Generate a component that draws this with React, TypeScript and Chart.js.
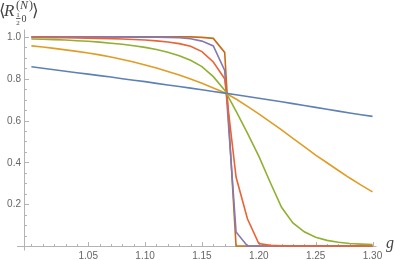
import { useEffect, useRef } from "react";
import { Chart, registerables } from "chart.js";

Chart.register(...registerables);

// coupling g (x values)
const gValues = [
  1.0, 1.01, 1.02, 1.03, 1.04, 1.05, 1.06, 1.07, 1.08, 1.09, 1.1, 1.11, 1.12, 1.13, 1.14, 1.15,
  1.16, 1.17, 1.18, 1.19, 1.2, 1.21, 1.22, 1.23, 1.24, 1.25, 1.26, 1.27, 1.28, 1.29, 1.3,
];

const seriesBlue = [
  0.857, 0.85, 0.843, 0.836, 0.829, 0.822, 0.815, 0.808, 0.8, 0.793, 0.786, 0.778, 0.77, 0.763, 0.755,
  0.747, 0.739, 0.731, 0.723, 0.715, 0.707, 0.698, 0.69, 0.681, 0.672, 0.663, 0.654, 0.645, 0.636,
  0.628, 0.62,
];
const seriesOrange = [
  0.957, 0.952, 0.945, 0.938, 0.931, 0.923, 0.914, 0.904, 0.892, 0.88, 0.866, 0.851, 0.835, 0.818,
  0.799, 0.778, 0.756, 0.733, 0.703, 0.668, 0.632, 0.594, 0.555, 0.515, 0.475, 0.435, 0.398, 0.361,
  0.325, 0.291, 0.259,
];
const seriesGreen = [
  0.99, 0.989, 0.987, 0.985, 0.982, 0.979, 0.975, 0.97, 0.965, 0.958, 0.95, 0.94, 0.927, 0.91, 0.888,
  0.858, 0.81, 0.745, 0.645, 0.54, 0.43, 0.305, 0.185, 0.11, 0.068, 0.042, 0.027, 0.018, 0.012, 0.009,
  0.007,
];
const seriesRed = [
  0.997, 0.997, 0.996, 0.996, 0.995, 0.994, 0.993, 0.992, 0.99, 0.988, 0.985, 0.981, 0.976, 0.968,
  0.955, 0.93, 0.88, 0.8, 0.33, 0.13, 0.012, 0.003, 0.001, 0, 0, 0, 0, 0, 0, 0, 0,
];
const seriesPurple = [
  1.0, 1.0, 1.0, 1.0, 1.0, 1.0, 1.0, 1.0, 1.0, 0.999, 0.999, 0.999, 0.998, 0.996, 0.991, 0.98, 0.957,
  0.84, 0.067, 0, 0, 0, 0, 0, 0, 0, 0, 0, 0, 0, 0,
];
const seriesBrown = [
  1.0, 1.0, 1.0, 1.0, 1.0, 1.0, 1.0, 1.0, 1.0, 1.0, 1.0, 1.0, 1.0, 1.0, 1.0, 0.998, 0.993, 0.926, 0,
  0, 0, 0, 0, 0, 0, 0, 0, 0, 0, 0, 0,
];

const seriesList = [seriesBlue, seriesOrange, seriesGreen, seriesRed, seriesPurple, seriesBrown];
const seriesColors = ["#5E81B5", "#E19C24", "#8FB032", "#EB6235", "#8778B3", "#C56E1A"];

const xMajorTicks = [1.05, 1.1, 1.15, 1.2, 1.25, 1.3];
const xMajorLabels = ["1.05", "1.10", "1.15", "1.20", "1.25", "1.30"];
const xMinorTicks = [
  1.0, 1.01, 1.02, 1.03, 1.04, 1.06, 1.07, 1.08, 1.09, 1.11, 1.12, 1.13, 1.14, 1.16, 1.17, 1.18, 1.19,
  1.21, 1.22, 1.23, 1.24, 1.26, 1.27, 1.28, 1.29,
];
const yMajorTicks = [0.2, 0.4, 0.6, 0.8, 1.0];
const yMajorLabels = ["0.2", "0.4", "0.6", "0.8", "1.0"];
const yMinorTicks = [0.05, 0.1, 0.15, 0.25, 0.3, 0.35, 0.45, 0.5, 0.55, 0.65, 0.7, 0.75, 0.85, 0.9, 0.95];

const AXIS_COLOR = "#b3b3b3";
const LABEL_COLOR = "#666666";

const axesPlugin = {
  id: "mmaAxes",
  beforeDatasetsDraw(chart: any) {
    const ctx = chart.ctx as CanvasRenderingContext2D;
    const xs = chart.scales.x;
    const ys = chart.scales.y;
    const area = chart.chartArea;
    const ax = Math.round(area.left) + 0.5;
    const ay = Math.round(ys.getPixelForValue(0)) + 0.5;
    ctx.save();
    ctx.strokeStyle = AXIS_COLOR;
    ctx.lineWidth = 1;
    // axis lines
    ctx.beginPath();
    ctx.moveTo(17, ay);
    ctx.lineTo(area.right + 4, ay);
    ctx.moveTo(ax, area.top);
    ctx.lineTo(ax, ay + 4);
    ctx.stroke();
    // x ticks
    ctx.beginPath();
    xMajorTicks.forEach((v) => {
      const px = Math.round(xs.getPixelForValue(v)) + 0.5;
      ctx.moveTo(px, ay);
      ctx.lineTo(px, ay - 4.5);
    });
    xMinorTicks.forEach((v) => {
      const px = Math.round(xs.getPixelForValue(v)) + 0.5;
      ctx.moveTo(px, ay);
      ctx.lineTo(px, ay - 2.5);
    });
    yMajorTicks.forEach((v) => {
      const py = Math.round(ys.getPixelForValue(v)) + 0.5;
      ctx.moveTo(ax, py);
      ctx.lineTo(ax + 4.5, py);
    });
    yMinorTicks.forEach((v) => {
      const py = Math.round(ys.getPixelForValue(v)) + 0.5;
      ctx.moveTo(ax, py);
      ctx.lineTo(ax + 2.5, py);
    });
    ctx.stroke();
    // tick labels
    ctx.fillStyle = LABEL_COLOR;
    ctx.font = "10px 'Liberation Sans', Arial, sans-serif";
    ctx.textAlign = "center";
    ctx.textBaseline = "middle";
    xMajorTicks.forEach((v, i) => {
      ctx.fillText(xMajorLabels[i], xs.getPixelForValue(v), ay + 10);
    });
    ctx.textAlign = "right";
    yMajorTicks.forEach((v, i) => {
      ctx.fillText(yMajorLabels[i], ax - 3.5, ys.getPixelForValue(v) + 0.5);
    });
    // axis labels
    ctx.fillStyle = "#444444";
    ctx.textAlign = "left";
    ctx.textBaseline = "alphabetic";
    ctx.font = "17px 'DejaVu Serif', 'Liberation Serif', serif";
    ctx.fillText("\u27E8", -1, 16);
    ctx.font = "italic 17px 'Liberation Serif', serif";
    ctx.fillText("R", 4, 16);
    ctx.font = "12px 'Liberation Serif', serif";
    ctx.fillText("(", 16, 9);
    ctx.font = "italic 12px 'Liberation Serif', serif";
    ctx.fillText("N", 20, 9);
    ctx.font = "12px 'Liberation Serif', serif";
    ctx.fillText(")", 29, 9);
    ctx.font = "7px 'Liberation Serif', serif";
    ctx.textAlign = "center";
    ctx.fillText("1", 18, 17);
    ctx.fillText("2", 18, 24.5);
    ctx.fillRect(16, 18, 4.5, 0.8);
    ctx.textAlign = "left";
    ctx.font = "10px 'Liberation Serif', serif";
    ctx.fillText("0", 21.5, 22);
    ctx.font = "17px 'DejaVu Serif', 'Liberation Serif', serif";
    ctx.fillText("\u27E9", 32, 16);
    ctx.font = "italic 16px 'Liberation Serif', serif";
    ctx.fillText("g", 386, 248);
    ctx.restore();
  },
};

export default function App() {
  const ref = useRef<HTMLCanvasElement>(null);
  useEffect(() => {
    document.body.style.margin = "0";
    const canvas = ref.current!;
    const chart = new Chart(canvas, {
      type: "line",
      data: {
        datasets: seriesList.map((s, i) => ({
          data: s.map((y, k) => ({ x: gValues[k], y })),
          borderColor: seriesColors[i],
          backgroundColor: seriesColors[i],
          borderWidth: 1.6,
          pointRadius: 0,
          tension: 0,
          fill: false,
          clip: false as any,
        })),
      },
      options: {
        responsive: false,
        animation: false,
        events: [],
        layout: { padding: { left: 24, right: 22.5, top: 29.6, bottom: 13.5 } },
        scales: {
          x: { type: "linear", min: 0.9935, max: 1.3, display: false },
          y: { type: "linear", min: -0.0024, max: 1.035, display: false },
        },
        plugins: { legend: { display: false }, tooltip: { enabled: false }, title: { display: false } },
      },
      plugins: [axesPlugin],
    });
    return () => chart.destroy();
  }, []);
  return (
    <div style={{ position: "fixed", left: 0, top: 0, width: 395, height: 260, background: "#fff" }}>
      <canvas ref={ref} width={395} height={260} style={{ display: "block", width: 395, height: 260 }} />
    </div>
  );
}
